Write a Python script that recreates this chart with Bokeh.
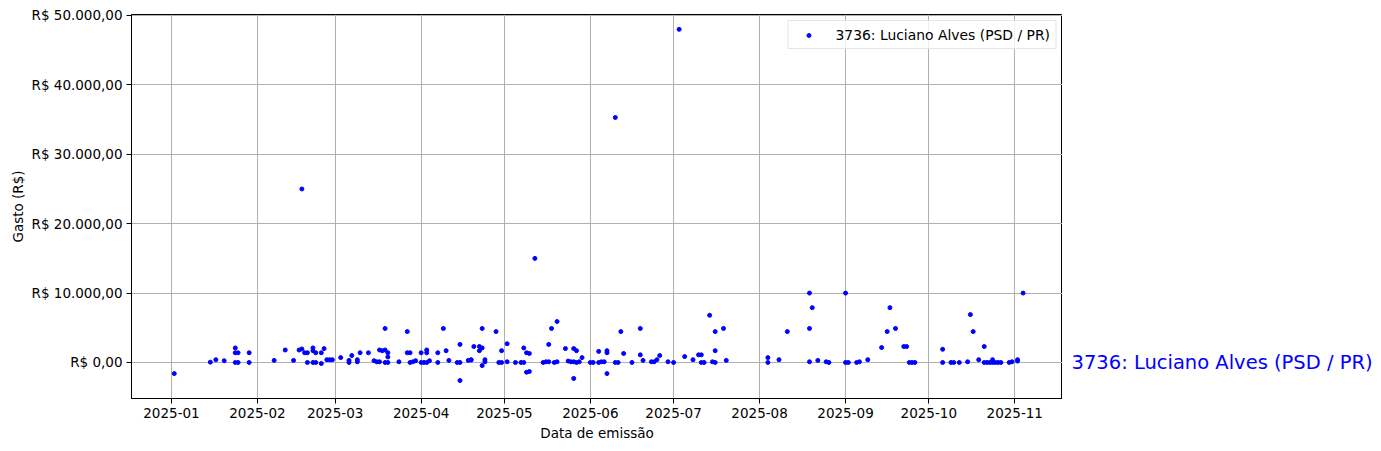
from datetime import datetime
import pandas as pd
from bokeh.plotting import figure
from bokeh.layouts import row
from bokeh.models import (ColumnDataSource, Range1d, SingleIntervalTicker, MonthsTicker,
                          DatetimeTickFormatter, CustomJSTickFormatter)
from bokeh.core.properties import value
from bokeh.embed import file_html
from bokeh.resources import INLINE

series_name = "3736: Luciano Alves (PSD / PR)"

dates = [
    "2025-01-02", "2025-01-15", "2025-01-17", "2025-01-20", "2025-01-24", "2025-01-24", "2025-01-24",
    "2025-01-25", "2025-01-25", "2025-01-29", "2025-01-29",
    "2025-02-07", "2025-02-11", "2025-02-14", "2025-02-16", "2025-02-17", "2025-02-17", "2025-02-18",
    "2025-02-19", "2025-02-19", "2025-02-21", "2025-02-21", "2025-02-21", "2025-02-22", "2025-02-22",
    "2025-02-24", "2025-02-24", "2025-02-25", "2025-02-26", "2025-02-27", "2025-02-28",
    "2025-03-03", "2025-03-06", "2025-03-06", "2025-03-07", "2025-03-09", "2025-03-09", "2025-03-10",
    "2025-03-13", "2025-03-15", "2025-03-16", "2025-03-17", "2025-03-17", "2025-03-18", "2025-03-19",
    "2025-03-19", "2025-03-19", "2025-03-20", "2025-03-20", "2025-03-20", "2025-03-24", "2025-03-27",
    "2025-03-27", "2025-03-28", "2025-03-28", "2025-03-29", "2025-03-30",
    "2025-04-01", "2025-04-01", "2025-04-02", "2025-04-03", "2025-04-03", "2025-04-03", "2025-04-04",
    "2025-04-07", "2025-04-07", "2025-04-09", "2025-04-10", "2025-04-11", "2025-04-14", "2025-04-15",
    "2025-04-15", "2025-04-15", "2025-04-18", "2025-04-19", "2025-04-19", "2025-04-20", "2025-04-22",
    "2025-04-22", "2025-04-23", "2025-04-23", "2025-04-23", "2025-04-24", "2025-04-24", "2025-04-28",
    "2025-04-29", "2025-04-30", "2025-04-30",
    "2025-05-02", "2025-05-02", "2025-05-05", "2025-05-07", "2025-05-08", "2025-05-08", "2025-05-09",
    "2025-05-09", "2025-05-10", "2025-05-10", "2025-05-12", "2025-05-15", "2025-05-16", "2025-05-17",
    "2025-05-17", "2025-05-18", "2025-05-19", "2025-05-20", "2025-05-20", "2025-05-23", "2025-05-24",
    "2025-05-25", "2025-05-26", "2025-05-26", "2025-05-26", "2025-05-27", "2025-05-27", "2025-05-28",
    "2025-05-29",
    "2025-06-01", "2025-06-02", "2025-06-04", "2025-06-04", "2025-06-05", "2025-06-06", "2025-06-07",
    "2025-06-07", "2025-06-07", "2025-06-10", "2025-06-10", "2025-06-11", "2025-06-12", "2025-06-13",
    "2025-06-16", "2025-06-19", "2025-06-19", "2025-06-20", "2025-06-23", "2025-06-24", "2025-06-25",
    "2025-06-26", "2025-06-29",
    "2025-07-01", "2025-07-03", "2025-07-05", "2025-07-08", "2025-07-10", "2025-07-11", "2025-07-11",
    "2025-07-12", "2025-07-14", "2025-07-15", "2025-07-16", "2025-07-16", "2025-07-16", "2025-07-19",
    "2025-07-20",
    "2025-08-04", "2025-08-04", "2025-08-08", "2025-08-11", "2025-08-19", "2025-08-19", "2025-08-19",
    "2025-08-20", "2025-08-22", "2025-08-25", "2025-08-26",
    "2025-09-01", "2025-09-01", "2025-09-02", "2025-09-05", "2025-09-06", "2025-09-09", "2025-09-14",
    "2025-09-16", "2025-09-17", "2025-09-19", "2025-09-22", "2025-09-23", "2025-09-24", "2025-09-25",
    "2025-09-26",
    "2025-10-06", "2025-10-06", "2025-10-09", "2025-10-10", "2025-10-12", "2025-10-15", "2025-10-16",
    "2025-10-17", "2025-10-19", "2025-10-21", "2025-10-21", "2025-10-22", "2025-10-23", "2025-10-24",
    "2025-10-24", "2025-10-25", "2025-10-26", "2025-10-27", "2025-10-30", "2025-10-31",
    "2025-11-02", "2025-11-02", "2025-11-04",
]

values = [
    -1600, 50, 400, 250, 2100, 1400, 0,
    1400, 0, 1400, 0,
    300, 1800, 300, 1800, 25000, 1950, 1400,
    1400, 0, 2100, 1700, 0, 1400, 0,
    1400, -150, 2000, 400, 400, 400,
    700, 0, 300, 1000, 400, 100, 1400,
    1400, 250, 100, 1800, 100, 1700, 1800,
    4900, 0, 1400, 800, 0, 100, 4450,
    1400, 1400, 0, 100, 250,
    1400, 0, 0, 1800, 1400, 0, 250,
    1400, 0, 4900, 1700, 300, 0, 2600,
    -2600, 0, 300, 400, 350, 2300, 2300,
    1700, 4900, 2100, -450, 400, 100, 4450,
    0, 1700, 0,
    100, 2700, 0, 0, 2100, 0, 1400,
    -1400, 1300, -1300, 15000, 0, 100, 2600,
    100, 4900, 0, 5900, 100, 2000, 200,
    100, 2000, 100, -2300, 1700, 0, 100,
    700,
    0, 0, 0, 1600, 100, 100, 1700,
    1400, -1600, 0, 35300, 0, 4450, 1300,
    0, 4900, 1100, 300, 100, 100, 400,
    1000, 100,
    0, 48000, 850, 400, 1100, 1100, 0,
    0, 6800, 100, 1700, 0, 4450, 4900,
    300,
    700, 0, 400, 4450, 10000, 4900, 100,
    7900, 300, 100, 0,
    10000, 0, 0, 0, 100, 400, 2150,
    4450, 7900, 4900, 2300, 2300, 0, 0,
    0,
    1900, 0, 0, 0, 0, 100, 6900,
    4450, 400, 2300, 0, 0, 0, 0,
    400, 0, 0, 0, 0, 100,
    200, 400, 10000,
]

x_start = datetime(2024, 12, 17, 14)
x_end = datetime(2025, 11, 18, 5)
y_start, y_end = -5190, 50140

source = ColumnDataSource(data=dict(date=pd.to_datetime(dates), value=values))

FONT = "DejaVu Sans"
TOP, BOTTOM, FRAME_H = 14, 45, 384

p = figure(
    x_axis_type="datetime",
    frame_width=931, frame_height=FRAME_H,
    min_border_left=131, min_border_right=0, min_border_top=TOP, min_border_bottom=BOTTOM,
    x_range=Range1d(x_start, x_end), y_range=Range1d(y_start, y_end),
    output_backend="svg", toolbar_location=None,
    background_fill_color="white", border_fill_color="white",
)

p.scatter(x="date", y="value", source=source, size=4, color="blue", line_width=1,
          legend_label=series_name)

p.outline_line_color = "black"
p.outline_line_width = 1
p.outline_line_alpha = 1

p.xaxis.ticker = MonthsTicker(months=list(range(12)))
p.xaxis.formatter = DatetimeTickFormatter(months="%Y-%m", days="%Y-%m", years="%Y-%m")
p.yaxis.ticker = SingleIntervalTicker(interval=10000, num_minor_ticks=0)
p.yaxis.formatter = CustomJSTickFormatter(code="""
const s = Math.abs(tick).toFixed(2).split('.');
const i = s[0].replace(/\\B(?=(\\d{3})+(?!\\d))/g, '.');
return (tick < 0 ? '-' : '') + 'R$ ' + i + ',' + s[1];
""")

p.xaxis.axis_label = "Data de emissão"
p.yaxis.axis_label = "Gasto (R$)"
for ax in (p.xaxis, p.yaxis):
    ax.axis_label_text_font = FONT
    ax.axis_label_text_font_style = "normal"
    ax.axis_label_text_font_size = "13.5px"
    ax.axis_label_text_color = "black"
    ax.major_label_text_font = FONT
    ax.major_label_text_font_size = "13.5px"
    ax.major_label_text_color = "black"
    ax.axis_line_color = "black"
    ax.major_tick_line_color = "black"
    ax.major_tick_out = 5
    ax.major_tick_in = 0
    ax.minor_tick_out = 0
    ax.minor_tick_in = 0
    ax.major_label_standoff = 4
p.xaxis.axis_label_standoff = 4
p.yaxis.axis_label_standoff = 3

p.grid.grid_line_color = "#b0b0b0"
p.grid.grid_line_width = 1
p.grid.grid_line_alpha = 1

leg = p.legend[0]
leg.location = "top_right"
leg.margin = 6
leg.padding = 5
leg.spacing = 0
leg.glyph_width = 30
leg.glyph_height = 10
leg.label_height = 17
leg.label_standoff = 12
leg.label_text_font = FONT
leg.label_text_font_size = "13.9px"
leg.label_text_color = "black"
leg.border_line_color = "#cccccc"
leg.border_line_width = 1
leg.background_fill_alpha = 0.8

# side panel with the series label, aligned on the shared y scale at y = 0
side = figure(
    frame_width=316, frame_height=FRAME_H,
    min_border_left=0, min_border_right=0, min_border_top=TOP, min_border_bottom=BOTTOM,
    x_range=Range1d(0, 1), y_range=p.y_range,
    output_backend="svg", toolbar_location=None,
    background_fill_color="white", border_fill_color="white",
)
side.axis.visible = False
side.grid.visible = False
side.outline_line_color = None
side.text(x=[0], y=[0], text=[series_name], x_offset=9, text_color="blue",
          text_font=value(FONT), text_font_size="19.5px", text_baseline="middle",
          text_align="left")

layout = row(p, side, spacing=0)
open("out.html", "w").write(file_html(layout, INLINE))
